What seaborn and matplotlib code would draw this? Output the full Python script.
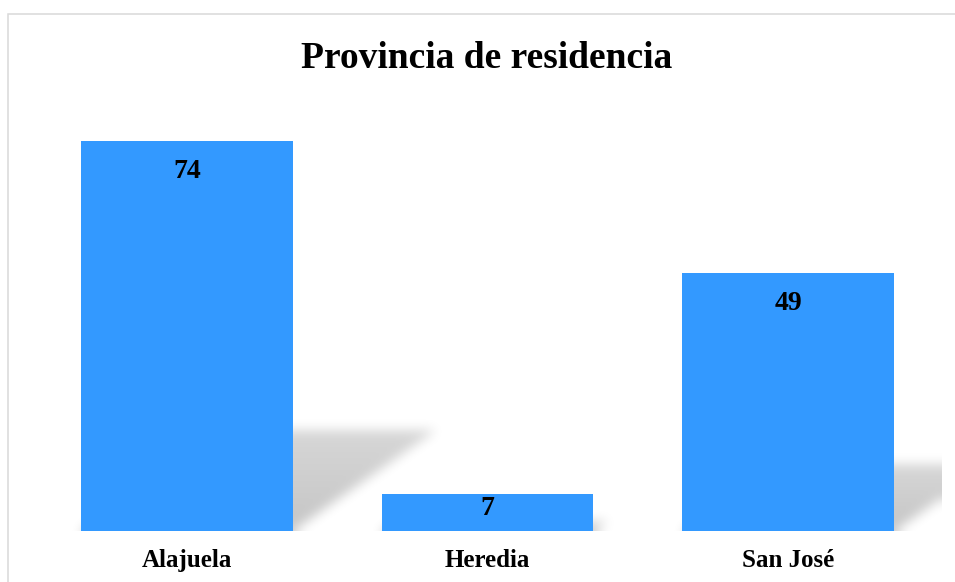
import numpy as np
import pandas as pd
import matplotlib
matplotlib.use("Agg")
import matplotlib.pyplot as plt
from matplotlib.patches import Rectangle
import seaborn as sns

# data
provincias = ["Alajuela", "Heredia", "San José"]
personas = [74, 7, 49]
titulo = "Provincia de residencia"

BAR_COLOR = "#3399ff"
W, H, DPI = 955, 582, 100


def box_blur(img, r):
    # separable box blur, run a few times for a softer edge
    for _ in range(3):
        for axis in (0, 1):
            pad = [(0, 0), (0, 0)]
            pad[axis] = (r + 1, r)
            p = np.pad(img, pad, mode="edge")
            c = np.cumsum(p, axis=axis)
            if axis == 0:
                img = (c[2 * r + 1:, :] - c[:-2 * r - 1, :]) / (2 * r + 1)
            else:
                img = (c[:, 2 * r + 1:] - c[:, :-2 * r - 1]) / (2 * r + 1)
    return img


def main():
    sns.set_theme(style="white")
    plt.rcParams["font.family"] = ["Liberation Serif", "DejaVu Serif"]

    df = pd.DataFrame({"provincia": provincias, "n": personas})

    fig = plt.figure(figsize=(W / DPI, H / DPI), dpi=DPI)
    # plot area in pixels: x 9..941, y 100..531 (from top)
    ax_l, ax_r, ax_t, ax_b = 9, 941, 100, 531
    ax = fig.add_axes([ax_l / W, (H - ax_b) / H, (ax_r - ax_l) / W, (ax_b - ax_t) / H])

    sns.barplot(data=df, x="provincia", y="n", color=BAR_COLOR, saturation=1,
                width=0.705, ax=ax, zorder=2, linewidth=0, edgecolor=BAR_COLOR)

    px_per_cat = 300.5
    px_per_unit = 5.27
    ax.set_xlim(-(187 - ax_l) / px_per_cat, 2 + (ax_r - 788) / px_per_cat)
    ax.set_ylim(0, (ax_b - ax_t) / px_per_unit)

    # soft perspective shadow behind each bar
    nx, ny = ax_r - ax_l, ax_b - ax_t
    xs = np.arange(nx) + 0.5  # px from left of axes
    ys = (ny - np.arange(ny) - 0.5)  # px above baseline (row 0 = top)
    X, Y = np.meshgrid(xs, ys)
    shade = np.zeros((ny, nx))
    x0_data = ax.get_xlim()[0]
    for i, v in enumerate(personas):
        c_px = (i - x0_data) * px_per_cat
        half = 0.705 / 2 * px_per_cat
        hs = 0.26 * v * px_per_unit
        shear = 1.42
        inside = (Y >= 0) & (Y <= hs) & (X >= c_px - half + shear * Y) & (X <= c_px + half + shear * Y)
        val = 0.23 * (1 - 0.3 * np.clip(Y / max(hs, 1), 0, 1))
        shade = np.maximum(shade, np.where(inside, val, 0))
    shade = box_blur(shade, 5)
    rgba = np.zeros((ny, nx, 4))
    rgba[..., 3] = shade
    ax.imshow(rgba, extent=(*ax.get_xlim(), *ax.get_ylim()), aspect="auto",
              zorder=1, interpolation="nearest")

    # value labels inside the top of each bar
    for i, v in enumerate(personas):
        off = -37 if v * px_per_unit > 60 else -21
        ax.annotate(str(v), (i, v), xytext=(0, off * 72 / DPI), textcoords="offset points",
                    ha="center", va="baseline", fontsize=20, fontweight="bold", color="black",
                    zorder=3)

    ax.set_xlabel("")
    ax.set_ylabel("")
    ax.set_yticks([])
    ax.tick_params(axis="x", length=0, pad=13)
    for lab in ax.get_xticklabels():
        lab.set_fontsize(18)
        lab.set_fontweight("bold")
        lab.set_color("black")
    sns.despine(ax=ax, left=True, bottom=True)
    ax.patch.set_visible(False)

    fig.text(486.5 / W, 1 - 68 / H, titulo, ha="center", va="baseline",
             fontsize=27, fontweight="bold", color="black")

    # chart frame (only left and top edges visible in the crop)
    fig.add_artist(Rectangle((7.8 / W, -0.1), 1.2, 1.1 - 13.5 / H, transform=fig.transFigure,
                             fill=False, edgecolor="#d9d9d9", linewidth=1.1))

    fig.savefig("out.png", dpi=DPI, facecolor="white")


if __name__ == "__main__":
    main()
